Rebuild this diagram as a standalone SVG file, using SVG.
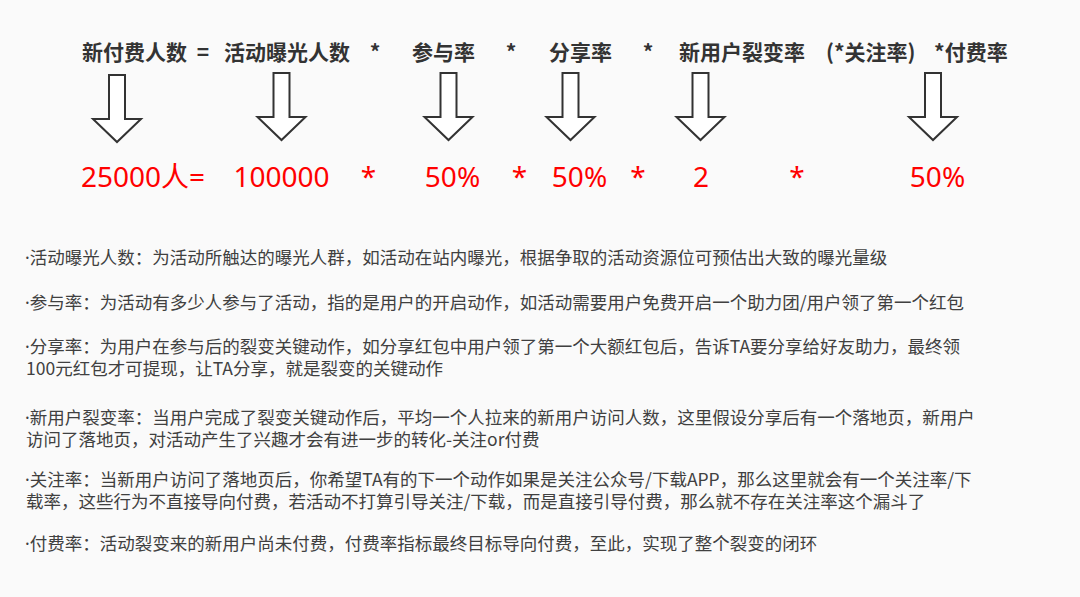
<svg xmlns="http://www.w3.org/2000/svg" width="1080" height="597" viewBox="0 0 1080 597">
<defs>
<style>
.t{font-family:"Noto Sans CJK SC","Noto Sans",sans-serif;font-weight:bold;font-size:21px;fill:#333333}
.v{font-family:"Noto Sans","Noto Sans CJK SC",sans-serif;font-size:28px;fill:#ff0000;text-anchor:middle}
.b{font-family:"Noto Sans CJK SC","Noto Sans",sans-serif;font-size:17.5px;fill:#404040}
.d{font-family:"Noto Sans",sans-serif}
.arr{fill:#ffffff;stroke:#333333;stroke-width:2;stroke-linejoin:miter}
</style>
<path id="down" d="M-8,0 H8 V44 H24 L0,67 L-24,44 H-8 Z"/>
</defs>
<rect width="1080" height="597" fill="#fafafa"/>

<g id="formula-terms">
<g id="term-new-payers"><text class="t" x="82" y="60">新付费人数</text><text class="t" x="203" y="60" text-anchor="middle">=</text></g>
<g id="term-exposure"><text class="t" x="224" y="60">活动曝光人数</text><text class="t" x="375" y="60" text-anchor="middle">*</text></g>
<g id="term-participation"><text class="t" x="412" y="60">参与率</text><text class="t" x="511" y="60" text-anchor="middle">*</text></g>
<g id="term-share"><text class="t" x="549" y="60">分享率</text><text class="t" x="648" y="60" text-anchor="middle">*</text></g>
<g id="term-fission"><text class="t" x="679" y="60">新用户裂变率</text></g>
<g id="term-follow"><text class="t" x="826" y="60">(*关注率)</text></g>
<g id="term-pay"><text class="t" x="934" y="60">*付费率</text></g>
</g>

<g id="connectors">
<use href="#down" class="arr" transform="translate(117,75)"/>
<use href="#down" class="arr" transform="translate(281.5,73)"/>
<use href="#down" class="arr" transform="translate(448.5,73)"/>
<use href="#down" class="arr" transform="translate(570.5,73)"/>
<use href="#down" class="arr" transform="translate(700.5,73)"/>
<use href="#down" class="arr" transform="translate(933,73)"/>
</g>

<g id="values">
<g id="val-new-payers"><text class="v" x="81" y="187" style="text-anchor:start">25000人=</text></g>
<g id="val-exposure"><text class="v" x="281.5" y="187">100000</text><text class="v" x="368.5" y="187">*</text></g>
<g id="val-participation"><text class="v" x="452.5" y="187">50%</text><text class="v" x="519.5" y="187">*</text></g>
<g id="val-share"><text class="v" x="579.5" y="187">50%</text><text class="v" x="638" y="187">*</text></g>
<g id="val-fission"><text class="v" x="701" y="187">2</text><text class="v" x="797" y="187">*</text></g>
<g id="val-pay"><text class="v" x="937.5" y="187">50%</text></g>
</g>

<g id="notes">
<text class="b" x="25" y="264"><tspan class="d">·</tspan>活动曝光人数：为活动所触达的曝光人群，如活动在站内曝光，根据争取的活动资源位可预估出大致的曝光量级</text>
<text class="b" x="25" y="309"><tspan class="d">·</tspan>参与率：为活动有多少人参与了活动，指的是用户的开启动作，如活动需要用户免费开启一个助力团/用户领了第一个红包</text>
<text class="b" x="25" y="353"><tspan class="d">·</tspan>分享率：为用户在参与后的裂变关键动作，如分享红包中用户领了第一个大额红包后，告诉TA要分享给好友助力，最终领</text>
<text class="b" x="26" y="375">100元红包才可提现，让TA分享，就是裂变的关键动作</text>
<text class="b" x="25" y="424"><tspan class="d">·</tspan>新用户裂变率：当用户完成了裂变关键动作后，平均一个人拉来的新用户访问人数，这里假设分享后有一个落地页，新用户</text>
<text class="b" x="26" y="446">访问了落地页，对活动产生了兴趣才会有进一步的转化-关注or付费</text>
<text class="b" x="25" y="486"><tspan class="d">·</tspan>关注率：当新用户访问了落地页后，你希望TA有的下一个动作如果是关注公众号/下载APP，那么这里就会有一个关注率/下</text>
<text class="b" x="26" y="508">载率，这些行为不直接导向付费，若活动不打算引导关注/下载，而是直接引导付费，那么就不存在关注率这个漏斗了</text>
<text class="b" x="25" y="550"><tspan class="d">·</tspan>付费率：活动裂变来的新用户尚未付费，付费率指标最终目标导向付费，至此，实现了整个裂变的闭环</text>
</g>
</svg>
